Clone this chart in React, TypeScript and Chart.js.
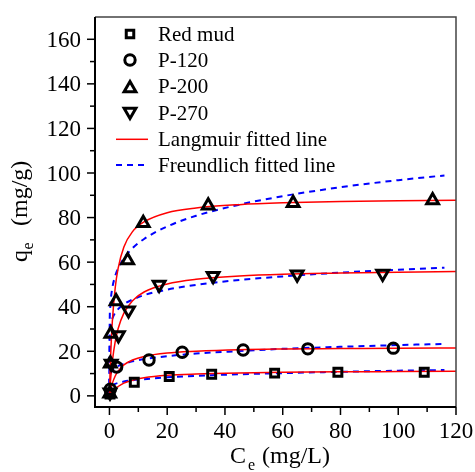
import React, { useEffect, useRef } from "react";
import { Chart, registerables } from "chart.js";

Chart.register(...registerables);

// ---- measured data ----
const redMudX = [0.2, 8.6, 20.7, 35.4, 57.2, 79.1, 109];
const redMudY = [0.8, 6.1, 8.7, 9.7, 10.2, 10.6, 10.6];
const p120X = [0.3, 2.5, 13.7, 25.2, 46.3, 68.7, 98.3];
const p120Y = [3.0, 12.9, 16.1, 19.6, 20.6, 21.1, 21.4];
const p200X = [0.1, 0.3, 0.5, 2.3, 6.3, 11.7, 34.2, 63.6, 111.9];
const p200Y = [1.0, 14.5, 27.8, 42.4, 60.8, 77.5, 85.4, 86.5, 87.7];
const p270X = [0.2, 0.6, 3.1, 6.6, 17.2, 35.9, 65, 94.6];
const p270Y = [1.5, 14.5, 27.2, 38.4, 49.9, 53.8, 54.5, 54.8];

// ---- fitted lines ----
const langC = [0, 0.1, 0.25, 0.5, 1, 2, 3, 5, 8, 12, 20, 30, 45, 60, 80, 100, 120];
const langRedMud = [0, 0.2, 0.5, 1.0, 1.9, 3.2, 4.2, 5.7, 7.0, 8.1, 9.2, 9.8, 10.3, 10.6, 10.8, 10.9, 11.0];
const langP120 = [0, 0.7, 1.7, 3.2, 5.6, 8.9, 11.1, 13.9, 16.1, 17.7, 19.2, 20.0, 20.7, 21.0, 21.2, 21.4, 21.5];
const langP200 = [0, 5.0, 11.6, 20.5, 33.4, 48.5, 57.2, 66.8, 73.7, 78.1, 82.2, 84.3, 85.8, 86.6, 87.2, 87.5, 87.8];
const langP270 = [0, 2.0, 4.9, 8.9, 15.5, 24.3, 30.1, 37.1, 42.7, 46.6, 50.2, 52.3, 53.8, 54.6, 55.1, 55.5, 55.8];

const freuC = [0, 0.1, 0.25, 0.5, 1, 2, 3, 5, 8, 12, 20, 30, 45, 60, 80, 100, 116];
const freuRedMud = [0, 3.0, 3.6, 4.1, 4.7, 5.4, 5.8, 6.4, 7.0, 7.5, 8.3, 9.0, 9.7, 10.2, 10.8, 11.3, 11.6];
const freuP120 = [0, 8.0, 9.2, 10.2, 11.3, 12.6, 13.4, 14.4, 15.5, 16.5, 17.8, 19.0, 20.1, 21.1, 22.0, 22.8, 23.3];
const freuP200 = [0, 34.3, 39.4, 43.7, 48.5, 53.8, 57.2, 61.7, 66.3, 70.4, 76.0, 80.8, 85.8, 89.6, 93.6, 96.8, 98.9];
const freuP270 = [0, 27.1, 29.8, 32.1, 34.6, 37.3, 38.9, 41.1, 43.2, 45.2, 47.7, 49.8, 52.0, 53.6, 55.3, 56.6, 57.5];

const xTickLabels = [0, 20, 40, 60, 80, 100, 120];
const yTickLabels = [0, 20, 40, 60, 80, 100, 120, 140, 160];
const legendLabels = ["Red mud", "P-120", "P-200", "P-270", "Langmuir fitted line", "Freundlich fitted line"];

const SERIF = "'Liberation Serif', 'Times New Roman', serif";

const pts = (xs: number[], ys: number[]) => xs.map((x, i) => ({ x, y: ys[i] }));

function drawMarker(ctx: CanvasRenderingContext2D, kind: string, x: number, y: number) {
  ctx.save();
  ctx.strokeStyle = "#000";
  ctx.lineWidth = 3;
  ctx.lineJoin = "miter";
  ctx.beginPath();
  if (kind === "rect") {
    const s = 7.5;
    ctx.rect(x - s / 2, y - s / 2, s, s);
  } else if (kind === "circle") {
    ctx.arc(x, y, 5.2, 0, Math.PI * 2);
  } else {
    const r = 6.8;
    const dir = kind === "down" ? -1 : 1;
    for (let i = 0; i < 3; i++) {
      const a = (i * 2 * Math.PI) / 3;
      const px = x + Math.sin(a) * r;
      const py = y - dir * Math.cos(a) * r + dir * r * 0.25;
      if (i === 0) ctx.moveTo(px, py);
      else ctx.lineTo(px, py);
    }
    ctx.closePath();
  }
  ctx.stroke();
  ctx.restore();
}

const decorPlugin = {
  id: "decor",
  afterDraw(chart: any) {
    const ctx: CanvasRenderingContext2D = chart.ctx;
    const { left, right, top, bottom } = chart.chartArea;
    const xs = chart.scales.x;
    const ys = chart.scales.y;
    ctx.save();
    // frame
    ctx.strokeStyle = "#444";
    ctx.lineWidth = 1.5;
    ctx.beginPath();
    ctx.moveTo(left, top);
    ctx.lineTo(right, top);
    ctx.lineTo(right, bottom);
    ctx.stroke();
    ctx.strokeStyle = "#000";
    ctx.lineWidth = 2;
    ctx.beginPath();
    ctx.moveTo(left, top);
    ctx.lineTo(left, bottom);
    ctx.lineTo(right, bottom);
    ctx.stroke();

    // y ticks
    ctx.lineWidth = 1.5;
    ctx.fillStyle = "#000";
    ctx.font = `23px ${SERIF}`;
    for (let v = 0; v <= 160; v += 10) {
      const y = ys.getPixelForValue(v);
      const len = v % 20 === 0 ? 8 : 5;
      ctx.beginPath();
      ctx.moveTo(left - len, y);
      ctx.lineTo(left, y);
      ctx.stroke();
    }
    ctx.textAlign = "right";
    ctx.textBaseline = "alphabetic";
    yTickLabels.forEach((v) => {
      const y = ys.getPixelForValue(v);
      ctx.fillText(String(v), left - 14, y + 7.5);
    });
    // x ticks
    for (let v = 0; v <= 120; v += 10) {
      const x = xs.getPixelForValue(v);
      const len = v % 20 === 0 ? 8 : 5;
      ctx.beginPath();
      ctx.moveTo(x, bottom);
      ctx.lineTo(x, bottom + len);
      ctx.stroke();
    }
    ctx.textAlign = "center";
    xTickLabels.forEach((v) => {
      const x = xs.getPixelForValue(v);
      ctx.fillText(String(v), x, 438);
    });

    // x title
    ctx.textAlign = "left";
    ctx.font = `24px ${SERIF}`;
    ctx.fillText("C", 230, 463);
    ctx.font = `16px ${SERIF}`;
    ctx.fillText("e", 248, 470);
    ctx.font = `24px ${SERIF}`;
    ctx.fillText("(mg/L)", 262, 463);

    // y title
    ctx.save();
    ctx.translate(27, 262);
    ctx.rotate(-Math.PI / 2);
    ctx.font = `24px ${SERIF}`;
    ctx.fillText("q", 0, 0);
    ctx.font = `16px ${SERIF}`;
    ctx.fillText("e", 12.5, 6);
    ctx.font = `24px ${SERIF}`;
    ctx.fillText("(mg/g)", 36, 0);
    ctx.restore();

    // legend
    const rows = [34, 60, 86.7, 113.3, 139.3, 165];
    const kinds = ["rect", "circle", "up", "down"];
    kinds.forEach((k, i) => drawMarker(ctx, k, 130, rows[i]));
    ctx.strokeStyle = "#ff0000";
    ctx.lineWidth = 1.5;
    ctx.beginPath();
    ctx.moveTo(116, rows[4]);
    ctx.lineTo(148, rows[4]);
    ctx.stroke();
    ctx.strokeStyle = "#0000ff";
    ctx.lineWidth = 2;
    ctx.setLineDash([6, 5]);
    ctx.beginPath();
    ctx.moveTo(116, rows[5]);
    ctx.lineTo(148, rows[5]);
    ctx.stroke();
    ctx.setLineDash([]);
    ctx.fillStyle = "#000";
    ctx.font = `21px ${SERIF}`;
    ctx.textAlign = "left";
    ctx.textBaseline = "middle";
    legendLabels.forEach((t, i) => ctx.fillText(t, 158, rows[i] + 1));
    ctx.restore();
  },
};

export default function App() {
  const ref = useRef<HTMLCanvasElement | null>(null);
  useEffect(() => {
    if (!ref.current) return;
    const markerDs = (label: string, data: any[], style: string, radius: number, rotation = 0) => ({
      label,
      data,
      showLine: false,
      pointStyle: style,
      pointRadius: radius,
      pointRotation: rotation,
      pointBorderColor: "#000",
      pointBackgroundColor: "transparent",
      pointBorderWidth: 3,
      order: 1,
    });
    const lineDs = (label: string, data: any[], color: string, dashed: boolean) => ({
      label,
      data,
      showLine: true,
      borderColor: color,
      borderWidth: dashed ? 2 : 1.5,
      borderDash: dashed ? [6, 5] : [],
      pointRadius: 0,
      cubicInterpolationMode: "monotone",
      fill: false,
      order: 2,
    });
    const chart = new Chart(ref.current, {
      type: "scatter",
      data: {
        datasets: [
          markerDs("Red mud", pts(redMudX, redMudY), "rect", 5.6),
          markerDs("P-120", pts(p120X, p120Y), "circle", 5.2),
          markerDs("P-200", pts(p200X, p200Y), "triangle", 6.8),
          markerDs("P-270", pts(p270X, p270Y), "triangle", 6.8, 180),
          lineDs("L Red mud", pts(langC, langRedMud), "#ff0000", false),
          lineDs("L P-120", pts(langC, langP120), "#ff0000", false),
          lineDs("L P-200", pts(langC, langP200), "#ff0000", false),
          lineDs("L P-270", pts(langC, langP270), "#ff0000", false),
          lineDs("F Red mud", pts(freuC, freuRedMud), "#0000ff", true),
          lineDs("F P-120", pts(freuC, freuP120), "#0000ff", true),
          lineDs("F P-200", pts(freuC, freuP200), "#0000ff", true),
          lineDs("F P-270", pts(freuC, freuP270), "#0000ff", true),
        ] as any,
      },
      options: {
        animation: false,
        responsive: false,
        layout: { padding: { left: 95, right: 19, top: 17, bottom: 65 } },
        scales: {
          x: { type: "linear", min: -5, max: 120, display: false },
          y: { type: "linear", min: -5, max: 170, display: false },
        },
        plugins: { legend: { display: false }, tooltip: { enabled: false } },
      },
      plugins: [decorPlugin],
    });
    return () => chart.destroy();
  }, []);
  return (
    <div style={{ position: "fixed", left: 0, top: 0, width: 475, height: 472, background: "#fff" }}>
      <canvas ref={ref} width={475} height={472} />
    </div>
  );
}
